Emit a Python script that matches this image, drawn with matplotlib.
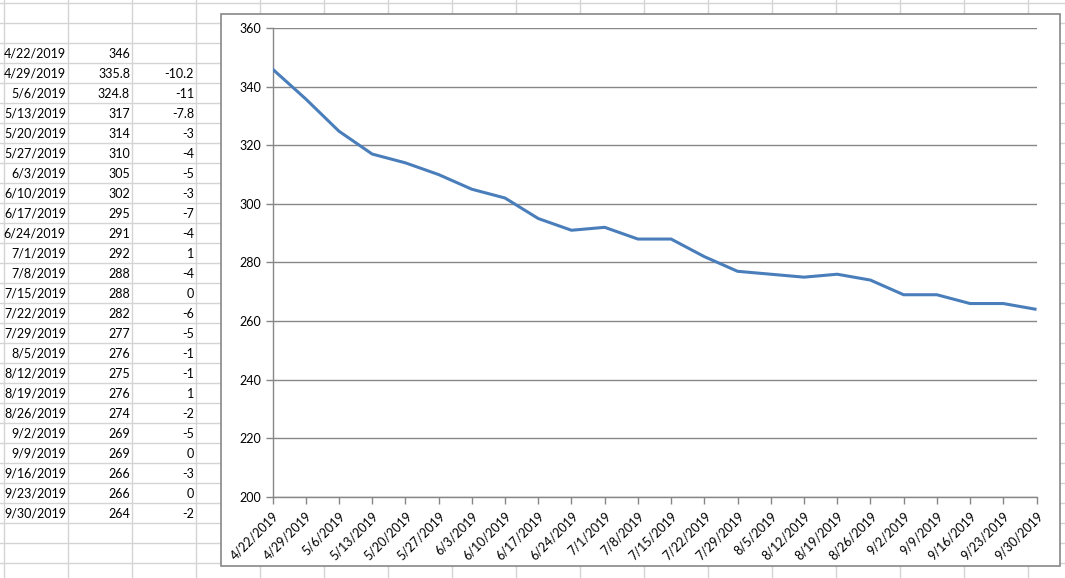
import numpy as np
import matplotlib
matplotlib.use("Agg")
import matplotlib.pyplot as plt
from matplotlib.patches import Rectangle

# data as shown in the sheet
dates = ["4/22/2019", "4/29/2019", "5/6/2019", "5/13/2019", "5/20/2019", "5/27/2019",
         "6/3/2019", "6/10/2019", "6/17/2019", "6/24/2019", "7/1/2019", "7/8/2019",
         "7/15/2019", "7/22/2019", "7/29/2019", "8/5/2019", "8/12/2019", "8/19/2019",
         "8/26/2019", "9/2/2019", "9/9/2019", "9/16/2019", "9/23/2019", "9/30/2019"]
values = [346, 335.8, 324.8, 317, 314, 310, 305, 302, 295, 291, 292, 288,
          288, 282, 277, 276, 275, 276, 274, 269, 269, 266, 266, 264]
changes = [None, -10.2, -11, -7.8, -3, -4, -5, -3, -7, -4, 1, -4,
           0, -6, -5, -1, -1, 1, -2, -5, 0, -3, 0, -2]

W, H = 1065, 578
FONT = "Lato"
plt.rcParams['font.family'] = [FONT, 'DejaVu Sans']

fig = plt.figure(figsize=(W / 100, H / 100), dpi=100)

# spreadsheet background, pixel coordinates
bg = fig.add_axes([0, 0, 1, 1])
bg.set_xlim(0, W)
bg.set_ylim(H, 0)
bg.axis("off")

grid_c = "#d4d4d4"
for x in np.arange(4, W, 64):
    bg.plot([x, x], [0, H], color=grid_c, lw=1, zorder=1)
for y in np.arange(3, H, 20):
    bg.plot([0, W], [y, y], color=grid_c, lw=1, zorder=1)

row0 = 43
fs = 9.0
for i, (d, v, c) in enumerate(zip(dates, values, changes)):
    yc = row0 + 20 * i + 11
    bg.text(66, yc, d, ha="right", va="center", fontsize=fs, color="black")
    bg.text(130, yc, f"{v:g}", ha="right", va="center", fontsize=fs, color="black")
    if c is not None:
        bg.text(194, yc, f"{c:g}", ha="right", va="center", fontsize=fs, color="black")

# chart frame
bg.add_patch(Rectangle((220.5, 13.5), 1060 - 220.5, 565.5 - 13.5,
                       facecolor="white", edgecolor="#878787", lw=1.2, zorder=3))

# chart plot area
left, right, top, bottom = 272.5, 1036.5, 28, 497
ax = fig.add_axes([left / W, 1 - bottom / H, (right - left) / W, (bottom - top) / H])
ax.set_facecolor("none")

x = np.arange(len(dates))
ax.plot(x, values, color="#4a7ebb", lw=2.2, solid_capstyle="butt", zorder=3)

ax.set_xlim(0, len(dates) - 1)
ax.set_ylim(200, 360)
ax.set_yticks(np.arange(200, 361, 20))
ax.set_xticks(x)
ax.set_xticklabels(dates, rotation=45, ha="right", rotation_mode="anchor")

ax.grid(axis="y", color="#878787", lw=1)
ax.set_axisbelow(True)
for s in ["top", "right"]:
    ax.spines[s].set_visible(False)
for s in ["left", "bottom"]:
    ax.spines[s].set_color("#878787")
    ax.spines[s].set_linewidth(1)
ax.tick_params(axis="both", colors="#878787", length=5, width=1, labelcolor="black",
               labelsize=9)
ax.tick_params(axis="x", pad=4)
ax.tick_params(axis="y", pad=3)

fig.savefig("out.png", dpi=100)
